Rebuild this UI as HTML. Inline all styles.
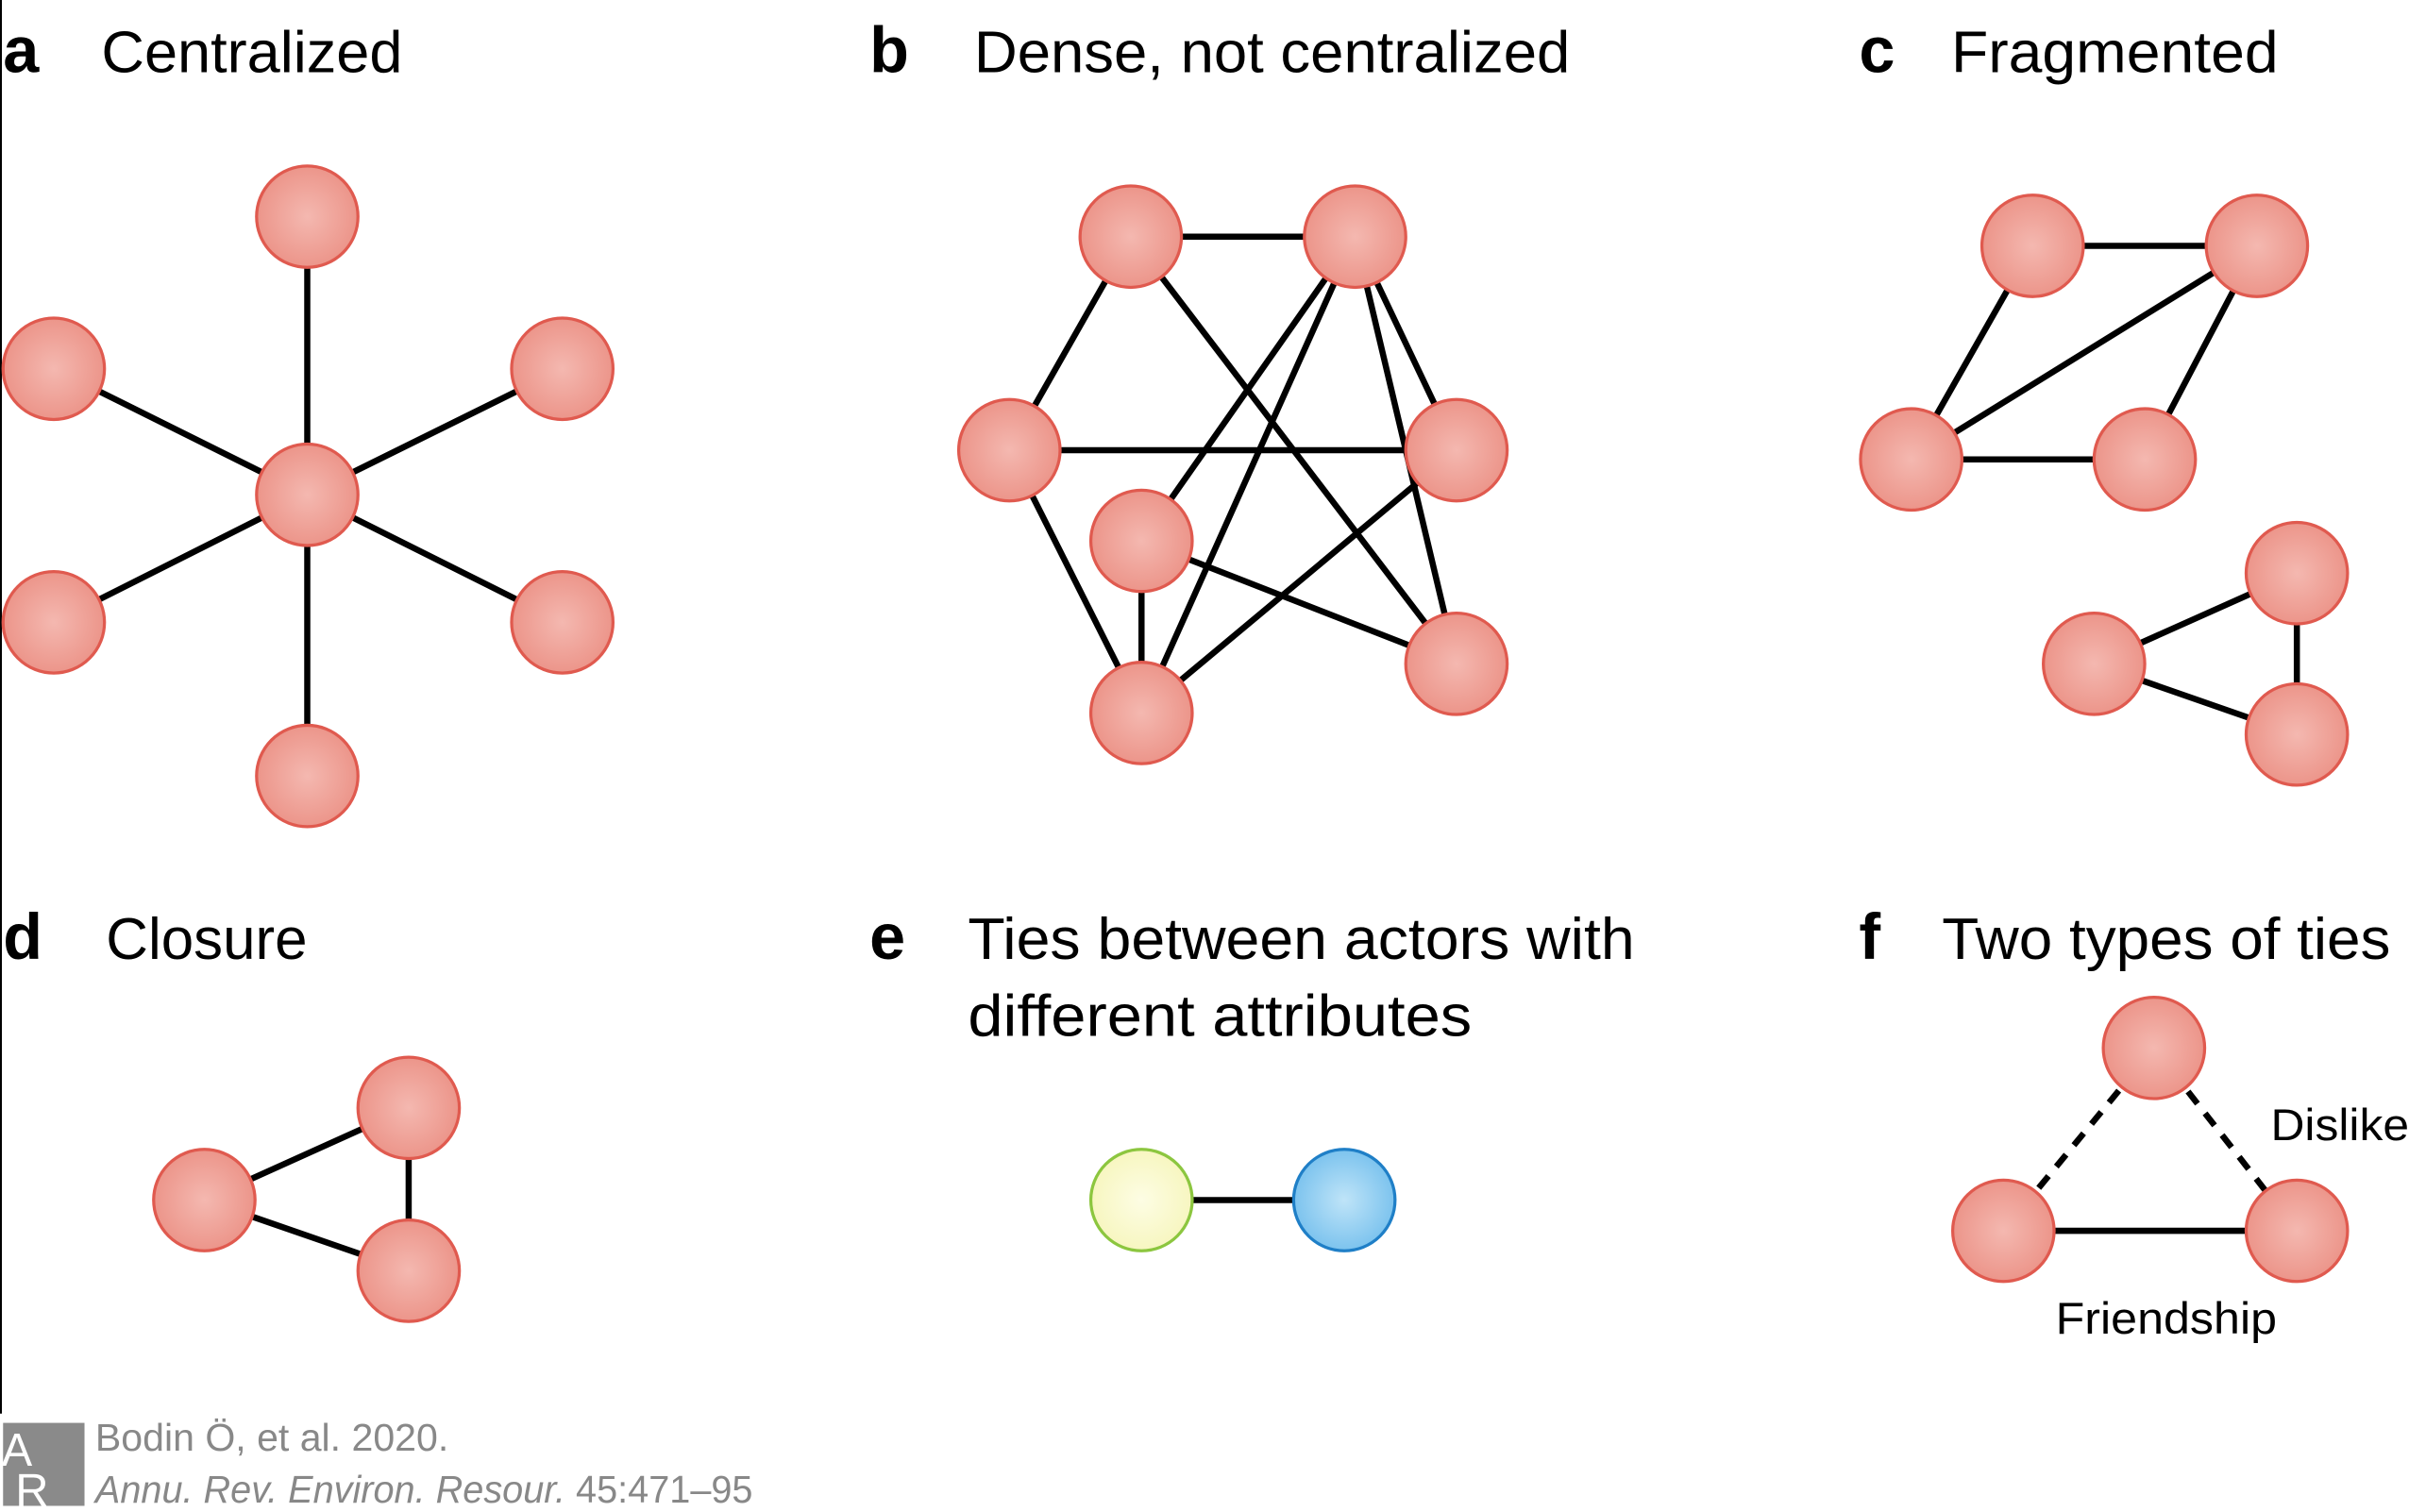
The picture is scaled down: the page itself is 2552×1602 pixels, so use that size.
<!DOCTYPE html>
<html><head><meta charset="utf-8"><style>
html,body{margin:0;padding:0;background:#fff;}
svg{display:block;}
text{font-family:"Liberation Sans",sans-serif;}
</style></head><body>
<svg width="2552" height="1602" viewBox="0 0 1568 984" preserveAspectRatio="none" xmlns="http://www.w3.org/2000/svg">
<defs>
<radialGradient id="r" cx="0.5" cy="0.5" r="0.5"><stop offset="0" stop-color="#f4b8b0"/><stop offset="1" stop-color="#ec958a"/></radialGradient>
<radialGradient id="y" cx="0.5" cy="0.5" r="0.5"><stop offset="0" stop-color="#fdfde4"/><stop offset="1" stop-color="#f7f6c0"/></radialGradient>
<radialGradient id="b" cx="0.5" cy="0.5" r="0.5"><stop offset="0" stop-color="#bfe4f8"/><stop offset="1" stop-color="#7cc3ee"/></radialGradient>
</defs>
<rect width="1568" height="984" fill="#fff"/>
<line x1="0.5" y1="0" x2="0.5" y2="920" stroke="#000" stroke-width="1.5"/>
<g stroke="#000" stroke-width="4" fill="none">
<!-- a -->
<line x1="200" y1="322" x2="200" y2="141"/><line x1="200" y1="322" x2="200" y2="505"/>
<line x1="200" y1="322" x2="35" y2="240"/><line x1="200" y1="322" x2="35" y2="405"/>
<line x1="200" y1="322" x2="366" y2="240"/><line x1="200" y1="322" x2="366" y2="405"/>
<!-- b -->
<line x1="736" y1="154" x2="882" y2="154"/><line x1="736" y1="154" x2="657" y2="293"/>
<line x1="736" y1="154" x2="948" y2="432"/><line x1="657" y1="293" x2="948" y2="293"/>
<line x1="657" y1="293" x2="743" y2="464"/><line x1="882" y1="154" x2="743" y2="352"/>
<line x1="882" y1="154" x2="743" y2="464"/><line x1="882" y1="154" x2="948" y2="293"/>
<line x1="882" y1="154" x2="948" y2="432"/><line x1="743" y1="352" x2="743" y2="464"/>
<line x1="743" y1="352" x2="948" y2="432"/><line x1="743" y1="464" x2="948" y2="293"/>
<!-- c -->
<line x1="1323" y1="160" x2="1469" y2="160"/><line x1="1323" y1="160" x2="1244" y2="299"/>
<line x1="1244" y1="299" x2="1469" y2="160"/><line x1="1469" y1="160" x2="1396" y2="299"/>
<line x1="1244" y1="299" x2="1396" y2="299"/>
<line x1="1363" y1="432" x2="1495" y2="373"/><line x1="1363" y1="432" x2="1495" y2="478"/><line x1="1495" y1="373" x2="1495" y2="478"/>
<!-- d -->
<line x1="133" y1="781" x2="266" y2="721"/><line x1="133" y1="781" x2="266" y2="827"/><line x1="266" y1="721" x2="266" y2="827"/>
<!-- e -->
<line x1="743" y1="781" x2="875" y2="781"/>
<!-- f -->
<line x1="1304" y1="801" x2="1495" y2="801"/>
<line x1="1402" y1="682" x2="1304" y2="801" stroke-dasharray="10,8"/>
<line x1="1402" y1="682" x2="1495" y2="801" stroke-dasharray="10,8"/>
</g>
<g fill="url(#r)" stroke="#e05a4f" stroke-width="2">
<circle cx="200" cy="141" r="33"/><circle cx="200" cy="322" r="33"/><circle cx="200" cy="505" r="33"/>
<circle cx="35" cy="240" r="33"/><circle cx="35" cy="405" r="33"/><circle cx="366" cy="240" r="33"/><circle cx="366" cy="405" r="33"/>
<circle cx="736" cy="154" r="33"/><circle cx="882" cy="154" r="33"/><circle cx="657" cy="293" r="33"/><circle cx="948" cy="293" r="33"/>
<circle cx="743" cy="352" r="33"/><circle cx="743" cy="464" r="33"/><circle cx="948" cy="432" r="33"/>
<circle cx="1323" cy="160" r="33"/><circle cx="1469" cy="160" r="33"/><circle cx="1244" cy="299" r="33"/><circle cx="1396" cy="299" r="33"/>
<circle cx="1363" cy="432" r="33"/><circle cx="1495" cy="373" r="33"/><circle cx="1495" cy="478" r="33"/>
<circle cx="133" cy="781" r="33"/><circle cx="266" cy="721" r="33"/><circle cx="266" cy="827" r="33"/>
<circle cx="1402" cy="682" r="33"/><circle cx="1304" cy="801" r="33"/><circle cx="1495" cy="801" r="33"/>
</g>
<circle cx="743" cy="781" r="33" fill="url(#y)" stroke="#8cc63f" stroke-width="2"/>
<circle cx="875" cy="781" r="33" fill="url(#b)" stroke="#1f7fc7" stroke-width="2"/>
<g font-size="38" fill="#000">
<text x="2" y="47" font-weight="bold" font-size="42">a</text>
<text x="66" y="47" textLength="196" lengthAdjust="spacingAndGlyphs">Centralized</text>
<text x="566" y="47" font-weight="bold" font-size="42">b</text>
<text x="634" y="47" textLength="388" lengthAdjust="spacingAndGlyphs">Dense, not centralized</text>
<text x="1210" y="47" font-weight="bold" font-size="42">c</text>
<text x="1270" y="47" textLength="213" lengthAdjust="spacingAndGlyphs">Fragmented</text>
<text x="2" y="624" font-weight="bold" font-size="42">d</text>
<text x="69" y="624" textLength="131" lengthAdjust="spacingAndGlyphs">Closure</text>
<text x="566" y="624" font-weight="bold" font-size="42">e</text>
<text x="630" y="624" textLength="434" lengthAdjust="spacingAndGlyphs">Ties between actors with</text>
<text x="630" y="674" textLength="328" lengthAdjust="spacingAndGlyphs">different attributes</text>
<text x="1210" y="624" font-weight="bold" font-size="42">f</text>
<text x="1264" y="624" textLength="292" lengthAdjust="spacingAndGlyphs">Two types of ties</text>
</g>
<text x="1478" y="742" font-size="29" textLength="90" lengthAdjust="spacingAndGlyphs">Dislike</text>
<text x="1338" y="868" font-size="29" textLength="144" lengthAdjust="spacingAndGlyphs">Friendship</text>
<rect x="2" y="926" width="53" height="54" fill="#8a8a8a"/>
<text x="1" y="954" font-size="30" fill="#fff">A</text>
<text x="10" y="980" font-size="30" fill="#fff">R</text>
<text x="62" y="944" font-size="25" fill="#888" textLength="230" lengthAdjust="spacingAndGlyphs">Bodin Ö, et al. 2020.</text>
<text x="62" y="978" font-size="25" fill="#888" font-style="italic" textLength="428" lengthAdjust="spacingAndGlyphs">Annu. Rev. Environ. Resour. <tspan font-style="normal">45:471–95</tspan></text>
</svg>
</body></html>
